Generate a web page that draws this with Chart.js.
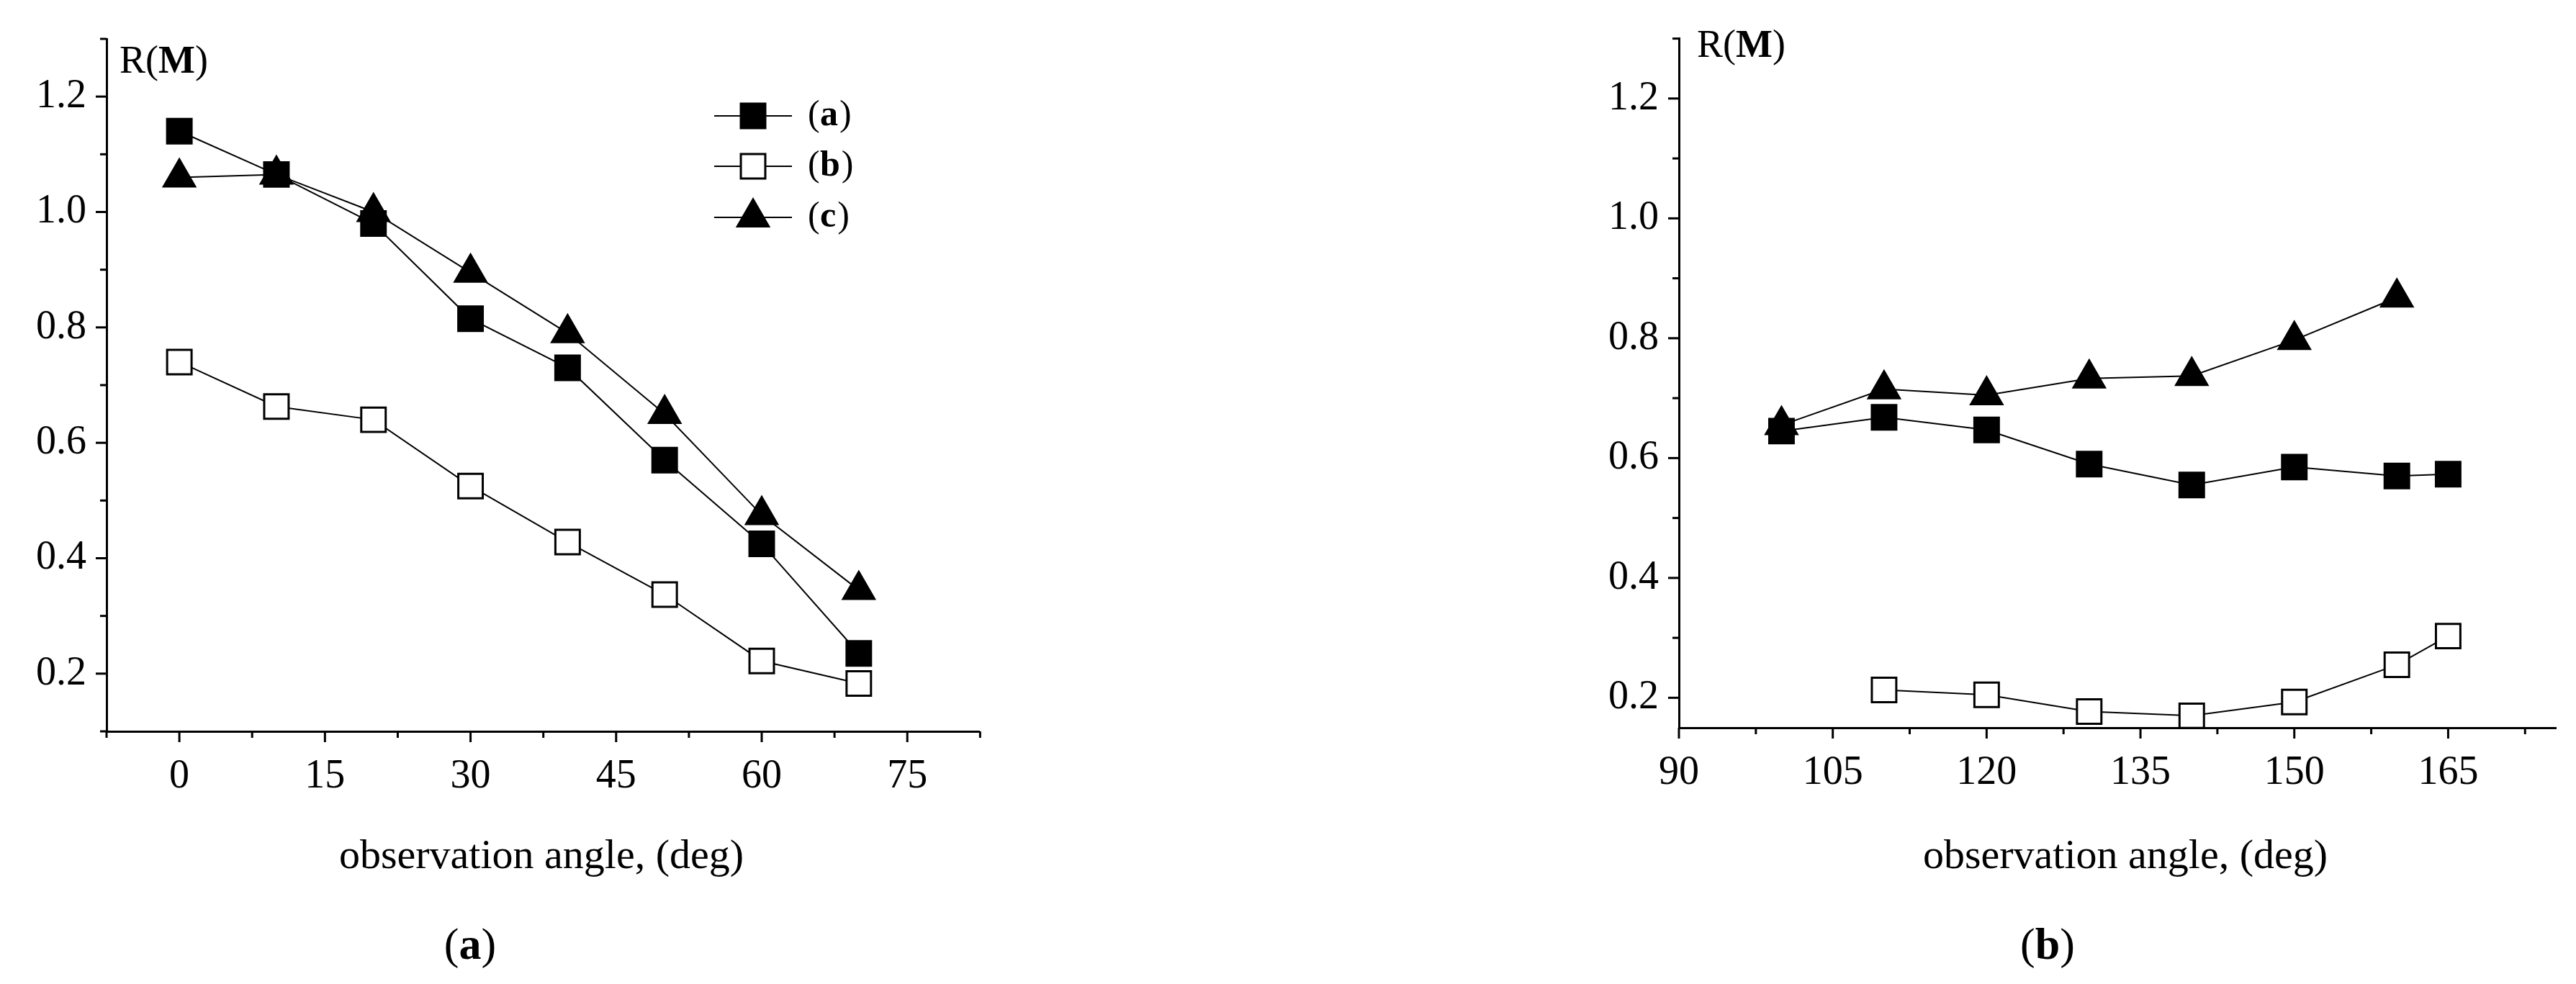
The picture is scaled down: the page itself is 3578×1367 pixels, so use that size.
<!DOCTYPE html>
<html>
<head>
<meta charset="utf-8">
<script src="https://cdn.jsdelivr.net/npm/chart.js@4/dist/chart.umd.min.js"></script>
<style>
body { margin: 0; background: #fff; width: 3578px; height: 1367px; position: relative; overflow: hidden; font-family: "Liberation Serif", serif; }
.box { position: absolute; top: 0; height: 1367px; }
.lbl { position: absolute; font-size: 54px; color: #000; white-space: nowrap; }
.ttl { position: absolute; font-size: 58px; color: #000; white-space: nowrap; transform: translate(-50%, -50%); }
</style>
</head>
<body>
<div class="box" style="left:0;width:1400px"><canvas id="chartA"></canvas></div>
<div class="box" style="left:2200px;width:1378px"><canvas id="chartB"></canvas></div>
<div class="lbl" style="left:166px;top:52px">R(<b>M</b>)</div>
<div class="lbl" style="left:2357px;top:30px">R(<b>M</b>)</div>
<div class="ttl" style="left:752px;top:1186px">observation angle, (deg)</div>
<div class="ttl" style="left:2952px;top:1186px">observation angle, (deg)</div>
<div class="ttl" style="left:653px;top:1311px;font-size:62px">(<b>a</b>)</div>
<div class="ttl" style="left:2844px;top:1311px;font-size:62px">(<b>b</b>)</div>
<script>
// panel (a)
const anglesA = [0, 10, 20, 30, 40, 50, 60, 70];
const seriesAa = [1.14, 1.065, 0.98, 0.815, 0.73, 0.57, 0.425, 0.235];
const seriesAb = [0.74, 0.663, 0.64, 0.525, 0.428, 0.337, 0.222, 0.183];
const seriesAc = [1.06, 1.065, 1.0, 0.895, 0.79, 0.65, 0.475, 0.345];
const xTicksA = [0, 15, 30, 45, 60, 75];
// panel (b)
const anglesB = [100, 110, 120, 130, 140, 150, 160, 165];
const seriesBa = [0.645, 0.668, 0.647, 0.59, 0.555, 0.585, 0.57, 0.573];
const seriesBb = [null, 0.213, 0.205, 0.177, 0.17, 0.193, 0.255, 0.303];
const seriesBc = [0.655, 0.715, 0.705, 0.733, 0.737, 0.797, 0.868, null];
const xTicksB = [90, 105, 120, 135, 150, 165];
const yTicks = [0.2, 0.4, 0.6, 0.8, 1.0, 1.2];
const legendLabels = ["a", "b", "c"];

const styles = [
  { pointStyle: "rect", bg: "#000", r: 24 },
  { pointStyle: "rect", bg: "#fff", r: 24 },
  { pointStyle: "triangle", bg: "#000", r: 25 }
];

function makeSets(xs, lists) {
  return lists.map((vals, i) => ({
    label: legendLabels[i],
    data: xs.map((x, j) => ({ x: x, y: vals[j] })),
    borderColor: "#000",
    borderWidth: 2,
    pointStyle: styles[i].pointStyle,
    pointRadius: styles[i].r,
    pointBackgroundColor: styles[i].bg,
    pointBorderColor: "#000",
    pointBorderWidth: 3,
    spanGaps: false
  }));
}

// draws major and minor ticks outward along both axes, plus the legend of panel (a)
const tickPlugin = {
  id: "ticks",
  afterDraw(chart, args, opts) {
    const ctx = chart.ctx, xs = chart.scales.x, ys = chart.scales.y;
    ctx.save();
    ctx.strokeStyle = "#000";
    ctx.lineWidth = 3;
    opts.xMinor.concat(opts.xMajor).forEach((v, k) => {
      const len = k < opts.xMinor.length ? 9 : 15;
      const px = xs.getPixelForValue(v);
      ctx.beginPath(); ctx.moveTo(px, ys.bottom); ctx.lineTo(px, ys.bottom + len); ctx.stroke();
    });
    opts.yMinor.concat(yTicks).forEach((v, k) => {
      const len = k < opts.yMinor.length ? 9 : 15;
      const py = ys.getPixelForValue(v);
      ctx.beginPath(); ctx.moveTo(xs.left, py); ctx.lineTo(xs.left - len, py); ctx.stroke();
    });
    if (opts.legend) {
      ctx.textBaseline = "middle";
      [161, 231, 302].forEach((y, i) => {
        ctx.lineWidth = 2;
        ctx.beginPath(); ctx.moveTo(992, y); ctx.lineTo(1100, y); ctx.stroke();
        ctx.fillStyle = styles[i].bg;
        ctx.lineWidth = 3;
        Chart.helpers.drawPoint(ctx, { pointStyle: styles[i].pointStyle, radius: styles[i].r, borderWidth: 3 }, 1046, y);
        ctx.fillStyle = "#000";
        ctx.font = "50px 'Liberation Serif'";
        ctx.fillText("(", 1122, y);
        ctx.font = "bold 50px 'Liberation Serif'";
        ctx.fillText(legendLabels[i], 1139, y);
        const w = ctx.measureText(legendLabels[i]).width;
        ctx.font = "50px 'Liberation Serif'";
        ctx.fillText(")", 1141 + w, y);
      });
    }
    ctx.restore();
  }
};

function makeChart(id, sets, xr, yr, xMajor, xMinor, yMinor, pad, yW, xH, legend) {
  new Chart(document.getElementById(id), {
    type: "line",
    data: { datasets: sets },
    plugins: [tickPlugin],
    options: {
      responsive: true,
      maintainAspectRatio: false,
      animation: false,
      layout: { padding: pad },
      plugins: {
        legend: { display: false },
        tooltip: { enabled: false },
        ticks: { xMajor: xMajor, xMinor: xMinor, yMinor: yMinor, legend: legend }
      },
      scales: {
        x: {
          type: "linear", min: xr[0], max: xr[1],
          afterBuildTicks: s => { s.ticks = xMajor.map(v => ({ value: v })); },
          afterFit: s => { s.height = xH; },
          grid: { display: false },
          border: { display: true, color: "#000", width: 3 },
          ticks: { color: "#000", font: { family: "Liberation Serif", size: 56 }, padding: 22, maxRotation: 0 }
        },
        y: {
          min: yr[0], max: yr[1],
          afterBuildTicks: s => { s.ticks = yTicks.map(v => ({ value: v })); },
          afterFit: s => { s.width = yW; },
          grid: { display: false },
          border: { display: true, color: "#000", width: 3 },
          ticks: { color: "#000", font: { family: "Liberation Serif", size: 56 }, padding: 20, callback: v => v.toFixed(1) }
        }
      }
    }
  });
}

makeChart("chartA", makeSets(anglesA, [seriesAa, seriesAb, seriesAc]), [-7.5, 82.4], [0.1, 1.3],
  xTicksA, [-7.5, 7.5, 22.5, 37.5, 52.5, 67.5, 82.5], [0.1, 0.3, 0.5, 0.7, 0.9, 1.1, 1.3],
  { left: 0, right: 40, top: 54, bottom: 0 }, 148, 351, true);
makeChart("chartB", makeSets(anglesB, [seriesBa, seriesBb, seriesBc]), [90, 175.5], [0.15, 1.3],
  xTicksB, [97.5, 112.5, 127.5, 142.5, 157.5, 172.5], [0.3, 0.5, 0.7, 0.9, 1.1, 1.3],
  { left: 0, right: 4, top: 40, bottom: 0 }, 132, 356, false);
</script>
</body>
</html>
